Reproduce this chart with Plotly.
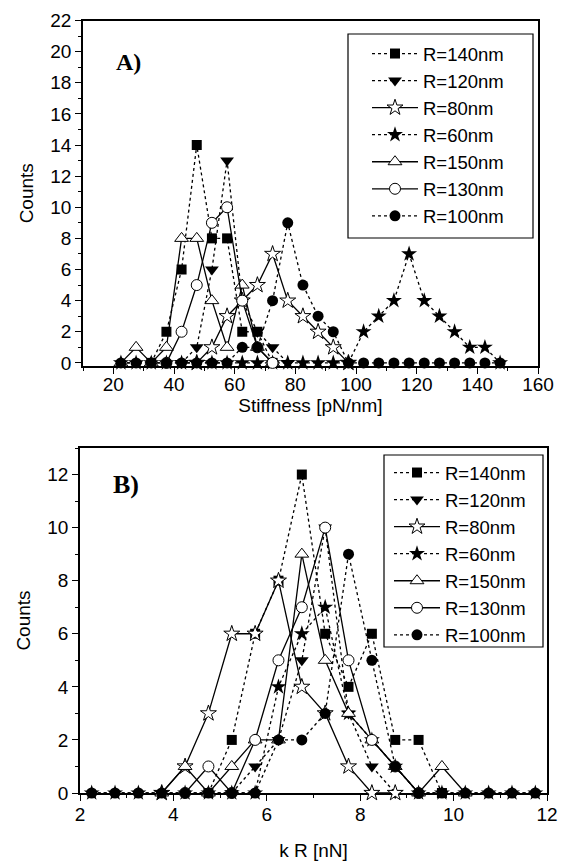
import plotly.graph_objects as go

# page body has an 8px margin, so the figure is 16px smaller and offset by 8px
OFF = 8
W, H = 566 - OFF, 863 - OFF

# ---------------- data ----------------
# None = bin not plotted for that series
names = ["R=140nm", "R=120nm", "R=80nm", "R=60nm", "R=150nm", "R=130nm", "R=100nm"]
_ = None

stiff_bins = [22.5, 27.5, 32.5, 37.5, 42.5, 47.5, 52.5, 57.5, 62.5, 67.5, 72.5, 77.5, 82.5,
              87.5, 92.5, 97.5, 102.5, 107.5, 112.5, 117.5, 122.5, 127.5, 132.5, 137.5, 142.5, 147.5]
a_r140 = [_, _, 0, 2, 6, 14, 8, 8, 2, 2, 0, _, _, _, _, _, _, _, _, _, _, _, _, _, _, _]
a_r120 = [_, _, _, _, 0, 1, 6, 13, 4, 2, 1, 0, _, _, _, _, _, _, _, _, _, _, _, _, _, _]
a_r80 = [_, _, _, _, _, 0, 1, 3, 4, 5, 7, 4, 3, 2, 1, 0, _, _, _, _, _, _, _, _, _, _]
a_r60 = [0, 0, 0, 0, 0, 0, 0, 0, 0, 0, 0, 0, 0, 0, 0, 0, 2, 3, 4, 7, 4, 3, 2, 1, 1, 0]
a_r150 = [0, 1, 0, 1, 8, 8, 4, 1, 5, 1, 0, _, _, _, _, _, _, _, _, _, _, _, _, _, _, _]
a_r130 = [_, _, _, 0, 2, 5, 9, 10, 4, 1, 0, _, _, _, _, _, _, _, _, _, _, _, _, _, _, _]
a_r100 = [0, 0, 0, 0, 0, 0, 0, 0, 1, 1, 4, 9, 5, 3, 2, 0, 0, 0, 0, 0, 0, 0, 0, 0, 0, 0]

kr_bins = [2.25, 2.75, 3.25, 3.75, 4.25, 4.75, 5.25, 5.75, 6.25, 6.75, 7.25, 7.75, 8.25,
           8.75, 9.25, 9.75, 10.25, 10.75, 11.25, 11.75]
b_r140 = [_, _, _, _, _, 0, 2, 6, 8, 12, 6, 4, 6, 2, 2, 0, _, _, _, _]
b_r120 = [_, _, _, _, _, _, 0, 1, 2, 5, 10, 3, 1, 0, _, _, _, _, _, _]
b_r80 = [_, _, _, 0, 1, 3, 6, 6, 8, 4, 3, 1, 0, 0, _, _, _, _, _, _]
b_r60 = [0, 0, 0, 0, 0, 0, 0, 0, 4, 6, 7, 3, 2, 1, 0, 0, 0, 0, 0, 0]
b_r150 = [_, _, _, 0, 1, 0, 1, 2, 2, 9, 5, 3, 2, 1, 0, 1, 0, _, _, _]
b_r130 = [_, _, _, _, 0, 1, 0, 2, 5, 7, 10, 5, 2, 1, 0, _, _, _, _, _]
b_r100 = [0, 0, 0, 0, 0, 0, 0, 0, 2, 2, 3, 9, 5, 1, 0, 0, 0, 0, 0, 0]

a_series = [a_r140, a_r120, a_r80, a_r60, a_r150, a_r130, a_r100]
b_series = [b_r140, b_r120, b_r80, b_r60, b_r150, b_r130, b_r100]

# ---------------- styles ----------------
styles = [
    dict(symbol="square", size=10, fill="black", dash="dot"),
    dict(symbol="triangle-down", size=12, fill="black", dash="dot"),
    dict(symbol="star", size=12, fill="white", dash="solid"),
    dict(symbol="star", size=12, fill="black", dash="dot"),
    dict(symbol="triangle-up", size=12, fill="white", dash="solid"),
    dict(symbol="circle", size=11, fill="white", dash="solid"),
    dict(symbol="circle", size=11, fill="black", dash="dot"),
]

FONT = "Liberation Sans, Arial, sans-serif"
SERIF = "Liberation Serif, Times New Roman, serif"

fig = go.Figure()


def add(xs, ys, name, st, xa, ya, leg):
    fig.add_trace(go.Scatter(
        x=xs, y=ys, name=name, mode="lines+markers",
        xaxis=xa, yaxis=ya, legend=leg, cliponaxis=False,
        line=dict(color="black", width=1.3, dash=st["dash"]),
        marker=dict(symbol=st["symbol"], size=st["size"], color=st["fill"],
                    line=dict(color="black", width=1 if st["fill"] == "white" else 0)),
    ))


for n, ys, st in zip(names, a_series, styles):
    add(stiff_bins, ys, n, st, "x", "y", "legend")
for n, ys, st in zip(names, b_series, styles):
    add(kr_bins, ys, n, st, "x2", "y2", "legend2")


def px_x(p):
    return (p - OFF) / W


def px_y(p):
    return 1 - (p - OFF) / H


axis_common = dict(
    showline=True, linecolor="black", linewidth=1.5, mirror=True,
    ticks="outside", ticklen=6, tickwidth=1.3, tickcolor="black",
    showgrid=False, zeroline=False, automargin=False,
    tickfont=dict(family=FONT, size=19, color="black"),
    title_font=dict(family=FONT, size=19, color="black"),
    layer="below traces",
)
minor = dict(ticks="outside", ticklen=3, tickwidth=1.2, tickcolor="black", showgrid=False)

fig.update_layout(
    width=W, height=H,
    margin=dict(l=0, r=0, t=0, b=0),
    paper_bgcolor="white", plot_bgcolor="white",
    showlegend=True,
    xaxis=dict(axis_common, domain=[px_x(83), px_x(538)], range=[10, 160], tick0=0, dtick=20,
               minor=dict(minor, dtick=10, tick0=0), anchor="y", ticklabelstandoff=-6,
               title=dict(text="Stiffness [pN/nm]", standoff=4)),
    yaxis=dict(axis_common, domain=[px_y(366), px_y(20.5)], range=[-0.2, 22], tick0=0, dtick=2,
               minor=dict(minor, dtick=1, tick0=0), anchor="x",
               title=dict(text="Counts", standoff=12)),
    xaxis2=dict(axis_common, domain=[px_x(80), px_x(547)], range=[2, 12], tick0=0, dtick=2,
                minor=dict(minor, dtick=1, tick0=0), anchor="y2", ticklabelstandoff=-3,
                title=dict(text="k R [nN]", standoff=20)),
    yaxis2=dict(axis_common, domain=[px_y(793), px_y(448)], range=[0, 13], tick0=0, dtick=2,
                minor=dict(minor, dtick=1, tick0=0), anchor="x2",
                title=dict(text="Counts", standoff=12)),
    legend=dict(x=px_x(367), y=px_y(35), xanchor="left", yanchor="top",
                bgcolor="rgba(0,0,0,0)", borderwidth=0, itemwidth=46,
                font=dict(family=FONT, size=18.5, color="black"), tracegroupgap=0),
    legend2=dict(x=px_x(389), y=px_y(454), xanchor="left", yanchor="top",
                 bgcolor="rgba(0,0,0,0)", borderwidth=0, itemwidth=46,
                 font=dict(family=FONT, size=18.5, color="black"), tracegroupgap=0),
    shapes=[
        dict(type="rect", xref="paper", yref="paper", x0=px_x(348), x1=px_x(533),
             y0=px_y(238), y1=px_y(34), line=dict(color="black", width=1.2), fillcolor="white",
             layer="below"),
        dict(type="rect", xref="paper", yref="paper", x0=px_x(384), x1=px_x(543),
             y0=px_y(647), y1=px_y(455), line=dict(color="black", width=1.2), fillcolor="white",
             layer="below"),
    ],
    annotations=[
        dict(text="<b>A)</b>", xref="paper", yref="paper", x=px_x(128), y=px_y(62),
             xanchor="center", yanchor="middle",
             showarrow=False, font=dict(family=SERIF, size=24, color="black")),
        dict(text="<b>B)</b>", xref="paper", yref="paper", x=px_x(126), y=px_y(484),
             xanchor="center", yanchor="middle",
             showarrow=False, font=dict(family=SERIF, size=26, color="black")),
    ],
)

fig.write_html("out.html")
